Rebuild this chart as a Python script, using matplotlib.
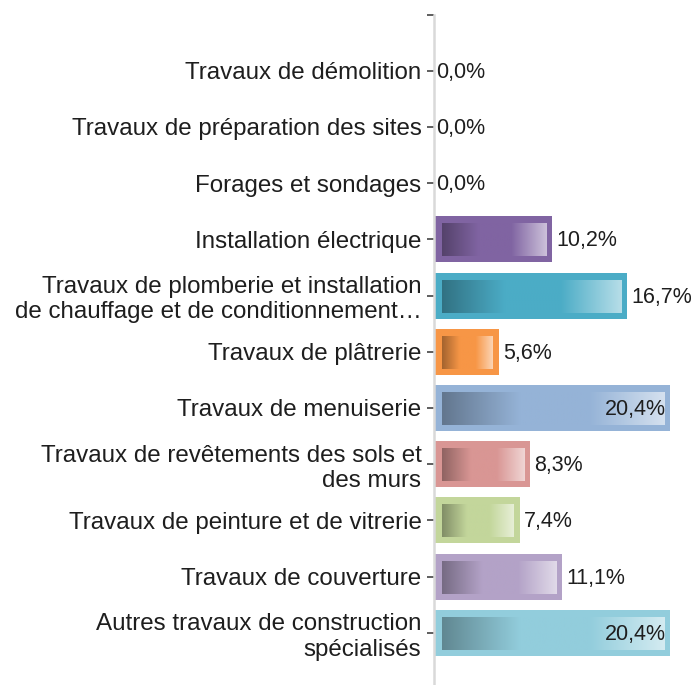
import numpy as np
import matplotlib.pyplot as plt
from matplotlib.colors import to_rgb

categories = [
    "Travaux de démolition",
    "Travaux de préparation des sites",
    "Forages et sondages",
    "Installation électrique",
    "Travaux de plomberie et installation\nde chauffage et de conditionnement…",
    "Travaux de plâtrerie",
    "Travaux de menuiserie",
    "Travaux de revêtements des sols et\ndes murs",
    "Travaux de peinture et de vitrerie",
    "Travaux de couverture",
    "Autres travaux de construction\nspécialisés",
]
values = [0.0, 0.0, 0.0, 10.2, 16.7, 5.6, 20.4, 8.3, 7.4, 11.1, 20.4]
colors = ["#4F81BD", "#C0504D", "#9BBB59", "#8064A2", "#4BACC6", "#F79646",
          "#95B3D7", "#D99694", "#C3D69B", "#B3A2C7", "#92CDDC"]

W, H = 694, 685
PX_PER_PCT = 11.57
SPACING = 56.21
XMAX = 22.0

plt.rcParams['font.family'] = ['Liberation Sans', 'DejaVu Sans']
text_col = '#1e1e1e'

fig = plt.figure(figsize=(W / 100, H / 100), dpi=100)
ax_w = XMAX * PX_PER_PCT
ax_h = 12 * SPACING
top_px = 14.5
ax = fig.add_axes([434 / W, (H - top_px - ax_h) / H, ax_w / W, ax_h / H])

bar_h = 0.82
px_x = 1.0 / PX_PER_PCT
px_y = 1.0 / SPACING


def gradient_row(base, n=300):
    base = np.array(to_rgb(base))
    dark = base * 0.66
    light = base + (1 - base) * 0.6
    t = np.linspace(0, 1, n)
    out = np.empty((1, n, 3))
    for k, tt in enumerate(t):
        if tt < 0.35:
            f = tt / 0.35
            c = dark + (base - dark) * f
        elif tt < 0.66:
            c = base
        else:
            f = (tt - 0.66) / 0.34
            c = base + (light - base) * f
        out[0, k] = c
    return out


ypos = np.arange(len(categories))
ax.barh(ypos, values, height=bar_h, color=colors, linewidth=0, zorder=2)

# inner gradient, inset from the bar edge
for i, (v, c) in enumerate(zip(values, colors)):
    if v <= 0:
        continue
    x0 = 8 * px_x
    x1 = v - 6 * px_x
    y_top = i - bar_h / 2 + 8 * px_y
    y_bot = i + bar_h / 2 - 6 * px_y
    ax.imshow(gradient_row(c), extent=(x0, x1, y_bot, y_top), aspect='auto',
              interpolation='bilinear', zorder=3)

for i, v in enumerate(values):
    lab = f"{v:.1f}%".replace('.', ',')
    ty = i + 1.5 * px_y
    if v > 18:
        ax.text(v - 4 * px_x, ty, lab, ha='right', va='center', fontsize=15.5,
                color=text_col, zorder=4)
    else:
        ax.text(v + (2 if v == 0 else 4) * px_x, ty, lab, ha='left', va='center',
                fontsize=15.5, color=text_col, zorder=4)

ax.set_xlim(0, XMAX)
ax.set_ylim(11, -1)
ax.set_yticks([-1] + list(ypos))
ax.set_yticklabels([''] + categories, fontsize=17.4, color=text_col)
ax.tick_params(axis='y', length=5, width=1.1, color='#333333', pad=4)
ax.set_xticks([])
for s in ['top', 'right', 'bottom']:
    ax.spines[s].set_visible(False)
ax.spines['left'].set_color('#d9d9d9')
ax.spines['left'].set_linewidth(1.8)
ax.patch.set_alpha(0)

fig.savefig('out.png', dpi=100)
